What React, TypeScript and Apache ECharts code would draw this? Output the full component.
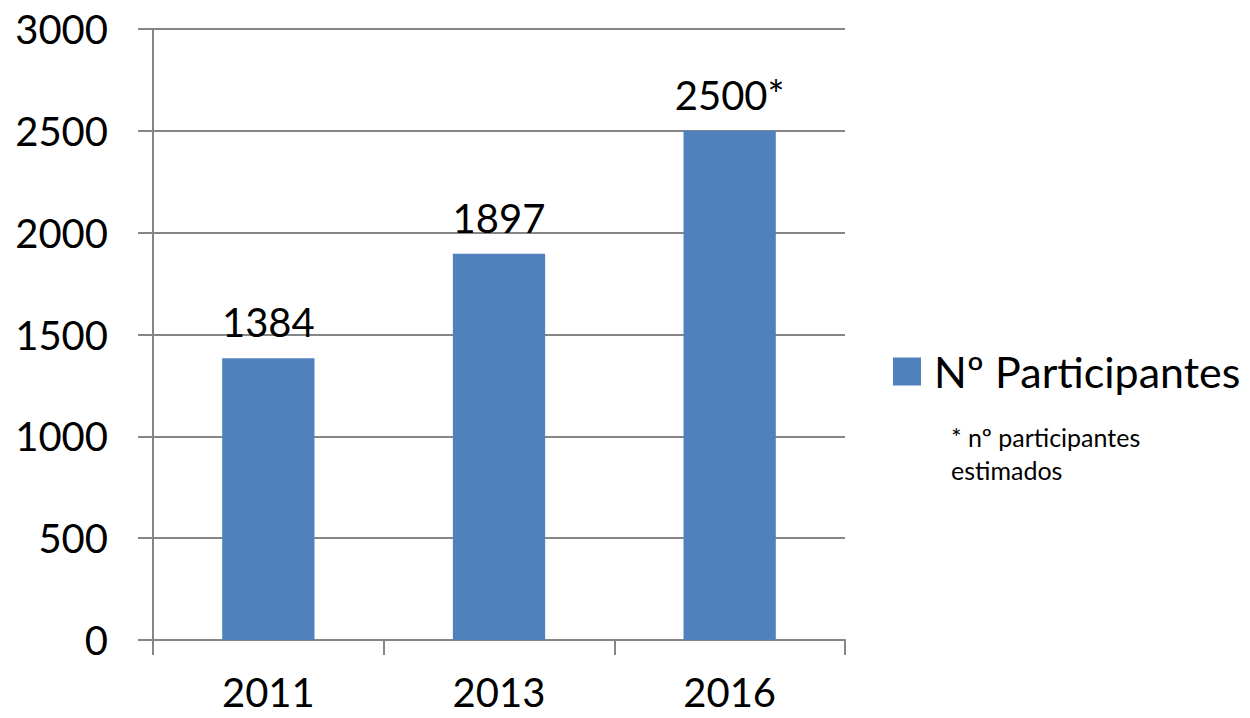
import React, { useEffect, useRef } from "react";
import * as echarts from "echarts";

const categories = ["2011", "2013", "2016"];
const participants = [1384, 1897, 2500];
const estimated = [false, false, true];
const seriesName = "Nº Participantes";
const noteLines = ["* nº participantes", "estimados"];
const yTicks = { min: 0, max: 3000, interval: 500 };

const FONT = "Lato, 'Open Sans', sans-serif";
const AXIS_COLOR = "#868686";

export default function App() {
  const ref = useRef<HTMLDivElement>(null);
  useEffect(() => {
    if (!ref.current) return;
    const chart = echarts.init(ref.current, undefined, { renderer: "svg" });
    chart.setOption({
      animation: false,
      backgroundColor: "#ffffff",
      textStyle: { fontFamily: FONT },
      grid: { left: 153, right: 405, top: 29, bottom: 78, outerBoundsMode: "none", containLabel: false },
      legend: {
        left: 888,
        top: 345,
        itemWidth: 28,
        itemHeight: 28,
        icon: "rect",
        data: [seriesName],
        textStyle: { fontSize: 43, color: "#000", fontFamily: FONT, padding: [0, 0, 0, 8] },
      },
      xAxis: {
        type: "category",
        data: categories,
        axisLine: { lineStyle: { color: AXIS_COLOR, width: 2 } },
        axisTick: { show: true, length: 15, lineStyle: { color: AXIS_COLOR, width: 2 } },
        axisLabel: { fontSize: 40, color: "#000", margin: 32, fontFamily: FONT, lineHeight: 40 },
      },
      yAxis: {
        type: "value",
        min: yTicks.min,
        max: yTicks.max,
        interval: yTicks.interval,
        axisLine: { show: true, lineStyle: { color: AXIS_COLOR, width: 2 } },
        axisTick: { show: true, length: 15, lineStyle: { color: AXIS_COLOR, width: 2 } },
        splitLine: { show: true, lineStyle: { color: AXIS_COLOR, width: 2 } },
        axisLabel: {
          fontSize: 40,
          color: "#000",
          margin: 45,
          fontFamily: FONT,
          formatter: (v: number) => String(v),
        },
      },
      series: [
        {
          name: seriesName,
          type: "bar",
          data: participants,
          barWidth: "40%",
          itemStyle: { color: "#4F81BD" },
          label: {
            show: true,
            position: "top",
            distance: 16,
            fontSize: 40,
            color: "#000",
            fontFamily: FONT,
            formatter: (p: any) => String(p.value) + (estimated[p.dataIndex] ? "*" : ""),
          },
        },
      ],
      graphic: [
        {
          type: "text",
          left: 951,
          top: 420,
          style: {
            text: noteLines.join("\n"),
            fontSize: 25,
            lineHeight: 33,
            fill: "#000",
            fontFamily: FONT,
          },
        },
      ],
    });
    return () => chart.dispose();
  }, []);
  return <div ref={ref} style={{ width: 1250, height: 718, position: "absolute", left: 0, top: 0 }} />;
}
